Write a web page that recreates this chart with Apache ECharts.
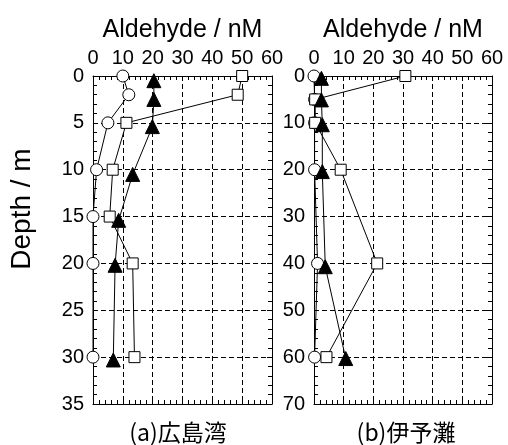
<!DOCTYPE html>
<html><head><meta charset="utf-8">
<script src="https://cdn.jsdelivr.net/npm/echarts@6/dist/echarts.min.js"></script>
<style>html,body{margin:0;padding:0;background:#fff}#c{width:508px;height:445px}</style>
</head><body><div id="c"></div>
<script>
// Panel (a) 広島湾
const depthA = [0, 2, 5, 10, 15, 20, 30];
const circleA = [10, 12, 5, 1.2, 0, 0, 0];
const squareA = [50, 48.5, 11.2, 6.6, 5.6, 13.3, 13.9];
const triDepthA = [0.5, 2.5, 5.4, 10.5, 15.4, 20.2, 30.3];
const triA = [20.4, 20.4, 19.9, 13.3, 8.6, 7.4, 6.8];
// Panel (b) 伊予灘
const depthB = [0, 5, 10, 20, 40, 60];
const circleB = [0, 0.2, 0.2, 0.2, 1.2, 0.2];
const squareB = [30.8, 0.4, 0.4, 9, 21.3, 4.2];
const triDepthB = [0.5, 5.1, 10.4, 20.4, 40.7, 60.3];
const triB = [2.5, 2.5, 2.8, 2.8, 3.8, 10.7];
const xTicks = [0, 10, 20, 30, 40, 50, 60];

const FONT = 'Liberation Sans';
const chart = echarts.init(document.getElementById('c'));
const pair = (xs, ys) => xs.map((x, i) => [x, ys[i]]);

function xAx(gi, pos, show) {
  return {
    type: 'value', gridIndex: gi, position: pos, min: 0, max: 60, interval: 10,
    axisLine: {show: true, onZero: false, lineStyle: {color: '#000', width: 1}},
    axisTick: {show: true, inside: true, length: 5, lineStyle: {color: '#000'}},
    minorTick: {show: true, splitNumber: 5, length: 4, lineStyle: {color: '#000'}},
    axisLabel: {show: show, color: '#000', fontFamily: FONT, fontSize: 20, margin: 8},
    splitLine: {show: show, lineStyle: {color: '#000', type: [5, 3], width: 1}},
    name: show ? 'Aldehyde / nM' : '', nameLocation: 'middle', nameGap: 33,
    nameTextStyle: {color: '#000', fontFamily: FONT, fontSize: 25}
  };
}
function yAx(gi, pos, show, max, intv) {
  return {
    type: 'value', gridIndex: gi, position: pos, min: 0, max: max, interval: intv, inverse: true,
    axisLine: {show: true, onZero: false, lineStyle: {color: '#000', width: 1}},
    axisTick: {show: true, inside: true, length: 5, lineStyle: {color: '#000'}},
    minorTick: {show: true, splitNumber: 5, length: 4, lineStyle: {color: '#000'}},
    axisLabel: {show: show, color: '#000', fontFamily: FONT, fontSize: 20, margin: 9},
    splitLine: {show: show, lineStyle: {color: '#000', type: [5, 3], width: 1}}
  };
}
function ser(xi, yi, data, sym, size, fill) {
  return {
    type: 'line', xAxisIndex: xi, yAxisIndex: yi, data: data, symbol: sym, symbolSize: size,
    showAllSymbol: true, animation: false, z: sym === 'triangle' ? 4 : 3,
    lineStyle: {color: '#000', width: 1},
    itemStyle: {color: fill, borderColor: '#000', borderWidth: 1}
  };
}

chart.setOption({
  animation: false,
  grid: [
    {left: 93, top: 76, width: 179, height: 328},
    {left: 314, top: 76, width: 178, height: 328}
  ],
  xAxis: [xAx(0, 'top', true), xAx(0, 'bottom', false), xAx(1, 'top', true), xAx(1, 'bottom', false)],
  yAxis: [yAx(0, 'left', true, 35, 5), yAx(0, 'right', false, 35, 5), yAx(1, 'left', true, 70, 10), yAx(1, 'right', false, 70, 10)],
  series: [
    ser(0, 0, pair(circleA, depthA), 'circle', 12, '#fff'),
    ser(0, 0, pair(squareA, depthA), 'rect', 11, '#fff'),
    ser(0, 0, pair(triA, triDepthA), 'triangle', 14, '#000'),
    ser(2, 2, pair(circleB, depthB), 'circle', 12, '#fff'),
    ser(2, 2, pair(squareB, depthB), 'rect', 11, '#fff'),
    ser(2, 2, pair(triB, triDepthB), 'triangle', 14, '#000')
  ],
  graphic: [
    {type: 'text', x: 22, y: 209, rotation: Math.PI / 2,
     style: {text: 'Depth / m', font: '28px "Liberation Sans"', fill: '#000', align: 'center', verticalAlign: 'middle'}},
    {type: 'text', x: 178, y: 432,
     style: {text: '(a)広島湾', font: '23px "Noto Sans CJK JP"', fill: '#000', align: 'center', verticalAlign: 'middle'}},
    {type: 'text', x: 406, y: 432,
     style: {text: '(b)伊予灘', font: '23px "Noto Sans CJK JP"', fill: '#000', align: 'center', verticalAlign: 'middle'}}
  ]
});
</script></body></html>
